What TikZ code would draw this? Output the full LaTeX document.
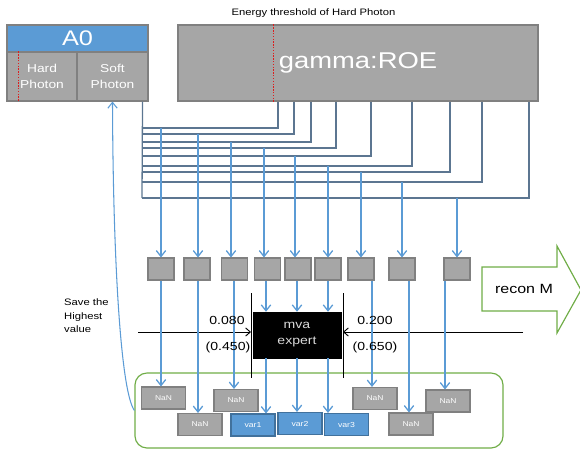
\documentclass[tikz,border=0pt]{standalone}
\usepackage{fontspec}
\setmainfont{Liberation Sans}[FakeStretch=1.2]
\usetikzlibrary{arrows.meta,positioning,calc}
\definecolor{officeblue}{RGB}{91,155,213}
\definecolor{blueedge}{RGB}{65,113,156}
\definecolor{boxgray}{RGB}{166,166,166}
\definecolor{grayedge}{RGB}{128,128,128}
\definecolor{wireslate}{RGB}{92,118,145}
\definecolor{poolgreen}{RGB}{112,173,71}
\definecolor{thrred}{RGB}{220,30,30}
\begin{document}
\begin{tikzpicture}[x=0.03cm, y=-0.03cm,
    every node/.style={inner sep=0pt},
    cell/.style={draw=grayedge, fill=boxgray, line width=0.9pt, text=white, align=center},
    head/.style={draw=grayedge, fill=officeblue, line width=0.9pt, text=white},
    slot/.style={draw=grayedge, fill=boxgray, line width=0.9pt, minimum width=0.78cm, minimum height=0.66cm},
    nanbox/.style={cell, minimum width=1.32cm, minimum height=0.66cm, font=\fontsize{6}{7}\selectfont},
    varbox/.style={draw=blueedge, fill=officeblue, line width=0.9pt, text=white, minimum width=1.32cm, minimum height=0.66cm, font=\fontsize{6.2}{7}\selectfont},
    num/.style={font=\fontsize{10}{12}\selectfont},
    wire/.style={draw=wireslate, line width=1.1pt},
    feed/.style={draw=officeblue, line width=1.1pt, -{Straight Barb[length=5pt,width=8pt]}},
    cut/.style={black, line width=0.8pt, -{Straight Barb[length=4pt,width=7pt]}},
    bar/.style={black, line width=0.8pt},
    thr/.style={draw=thrred, line width=0.9pt, dash pattern=on 1.2pt off 1.2pt},
]
\useasboundingbox (0,0) rectangle (580,449);

\node[head, minimum width=4.23cm, minimum height=0.81cm, font=\fontsize{18}{20}\selectfont] (a0) at (77.5,38.5) {A0};
\node[cell, minimum width=2.1cm, minimum height=1.47cm, font=\fontsize{9.8}{13.7}\selectfont] (hard) at (42,76.5) {Hard\\Photon};
\node[cell, minimum width=2.13cm, minimum height=1.47cm, font=\fontsize{9.8}{13.7}\selectfont] (soft) at (112.5,76.5) {Soft\\Photon};
\draw[thr] ($(hard.north west)+(12,0)$) -- ($(hard.south west)+(12,0)$);

\node[cell, minimum width=10.8cm, minimum height=2.28cm, font=\fontsize{19.5}{22}\selectfont] (roe) at (358,63) {gamma:ROE};
\draw[thr] ($(roe.north west)+(96,0)$) -- ($(roe.south west)+(96,0)$);
\node[font=\fontsize{8}{10}\selectfont] (thrlabel) at (313.5,13) {Energy threshold of Hard Photon};

\node[draw=poolgreen, line width=1pt, rounded corners=0.36cm, minimum width=11.04cm, minimum height=2.25cm] (pool) at (319,410.5) {};

\foreach \bx [count=\i] in {161,197,234.5,267.5,298,328,361,402,457}
  \node[slot] (b\i) at (\bx,269) {};

\node[draw, fill=black, text=white!85!black, align=center, minimum width=2.64cm, minimum height=1.38cm, font=\fontsize{10}{13.7}\selectfont] (mva) at (297,335) {mva\\expert};

\node[nanbox] (n1) at (163.5,398) {NaN};
\node[nanbox] (n2) at (200,424.5) {NaN};
\node[nanbox] (n3) at (236,400.5) {NaN};
\node[nanbox] (n4) at (375,398.5) {NaN};
\node[nanbox] (n5) at (411,424) {NaN};
\node[nanbox] (n6) at (448,401) {NaN};
\node[varbox] (v1) at (253,425) {var1};
\node[varbox] (v2) at (300,423.5) {var2};
\node[varbox] (v3) at (346.5,424.5) {var3};

\coordinate (bus) at ($(soft.south east)+(-6,0)$);
\foreach \rx/\hy [count=\i] in {278/128,294/134,311/142,336/148,371/156,412/166,450/172,482/182,529/198} {
  \coordinate (r\i) at (\rx,0);
  \coordinate (h\i) at (142,\hy);
  \draw[wire] (roe.south -| r\i) |- (h\i);
}
\draw[wire] (bus) -- (h9);

\coordinate (barLt) at (251,293);
\coordinate (barLb) at (251,378);
\coordinate (barRt) at (343,293);
\coordinate (barRb) at (343,378);
\draw[bar] (barLt) -- (barLb);
\draw[bar] (barRt) -- (barRb);
\coordinate (inL) at (138,332);
\coordinate (inR) at (523,332);
\draw[cut] (inL) -- (inL -| barLt);
\draw[cut] (inR) -- (inR -| barRt);

\foreach \ax/\hy [count=\i] in {161/128,198/134,231/142,264/148,295/156,328/166,361/172,402/182,457/198} {
  \coordinate (t\i) at (\ax,\hy);
  \draw[feed] (t\i) -- (t\i |- b\i.north);
}
\foreach \i/\dx/\res in {1/161/n1,2/198/n2,3/234/n3,7/372/n4,8/409/n5,9/445/n6} {
  \coordinate (d\i) at (\dx,0);
  \draw[feed] (b\i.south -| d\i) -- (\res.north -| d\i);
}
\foreach \i/\dx/\res in {4/266/v1,5/297/v2,6/328/v3} {
  \coordinate (d\i) at (\dx,0);
  \draw[feed] (b\i.south -| d\i) -- (mva.north -| d\i);
  \draw[feed] (mva.south -| d\i) -- (\res.north -| d\i);
}

\node[num] (cutLhi) at (227,320) {0.080};
\node[num] (cutLlo) at (228,347) {(0.450)};
\node[num] (cutRhi) at (375,320) {0.200};
\node[num] (cutRlo) at (375,347) {(0.650)};

\node[anchor=west, align=left, font=\fontsize{8}{11.5}\selectfont] (savenote) at (64,316) {Save the\\Highest\\value};

\draw[officeblue, line width=0.9pt, -{Straight Barb[length=5pt,width=8pt]}] (pool.west) .. controls (120,390) and (113,250) .. (soft.south);

\draw[poolgreen, line width=1pt, fill=white] (482,267) -- (557,267) -- (557,246) -- (581,290) -- (557,333) -- (557,311) -- (482,311) -- cycle;
\node[font=\fontsize{11.4}{13}\selectfont] (recon) at (524,289) {recon M};
\end{tikzpicture}
\end{document}
